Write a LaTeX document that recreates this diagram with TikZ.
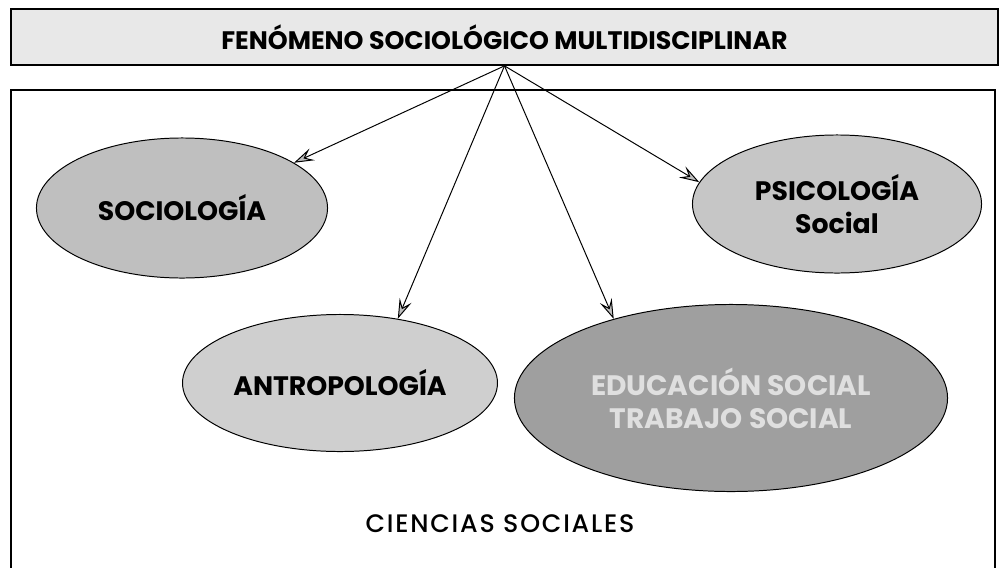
\documentclass[tikz,border=0pt]{standalone}
\usepackage{fontspec}
\setmainfont{Poppins}
\newfontfamily\medfont{Poppins}[UprightFont=* Medium, LetterSpace=7]
\usetikzlibrary{positioning,arrows.meta,calc,shapes.geometric}

\begin{document}
\begin{tikzpicture}[
    x=0.025cm, y=-0.025cm,
    banner/.style={draw, line width=1.2pt, fill=gray!18, minimum width=24.675cm, minimum height=1.4cm, font=\bfseries\fontsize{18}{21}\selectfont},
    campo/.style={draw, line width=1.2pt, minimum width=24.6cm, minimum height=12.125cm},
    disc/.style={ellipse, draw, line width=0.7pt, align=center, font=\bfseries\fontsize{19}{23.5}\selectfont},
    arr/.style={-{Stealth[length=5mm, width=3.2mm, inset=2mm, fill=gray!50]}, line width=0.7pt}
]
\useasboundingbox (0,0) rectangle (1001,567);

\node[banner] (fenomeno) at (504.5,37) {FENÓMENO SOCIOLÓGICO MULTIDISCIPLINAR\hspace{0.7cm}};
\node[campo] (campo) at (503,332.5) {};

\node[disc, fill=gray!50, minimum width=7.275cm, minimum height=3.5cm] (sociologia) at (182,208) {SOCIOLOGÍA};
\node[disc, fill=gray!45, minimum width=7.225cm, minimum height=3.45cm] (psicologia) at (837,204) {PSICOLOGÍA\\Social};
\node[disc, fill=gray!38, minimum width=7.25cm, minimum height=3.425cm] (antropologia) at (340,383) {ANTROPOLOGÍA};
\node[disc, fill=gray!75, text=gray!25, minimum width=10.825cm, minimum height=4.675cm, font=\bfseries\fontsize{20}{23.5}\selectfont] (educacion) at (731,398) {EDUCACIÓN SOCIAL\\TRABAJO SOCIAL};

\node[font=\medfont\fontsize{18}{21}\selectfont] (ciencias) at (500,524) {CIENCIAS SOCIALES};

\draw[arr] (fenomeno.south) -- (sociologia.22);
\draw[arr] (fenomeno.south) -- (antropologia.48);
\draw[arr] (fenomeno.south) -- (educacion.146);
\draw[arr] (fenomeno.south) -- (psicologia.171);
\end{tikzpicture}
\end{document}
